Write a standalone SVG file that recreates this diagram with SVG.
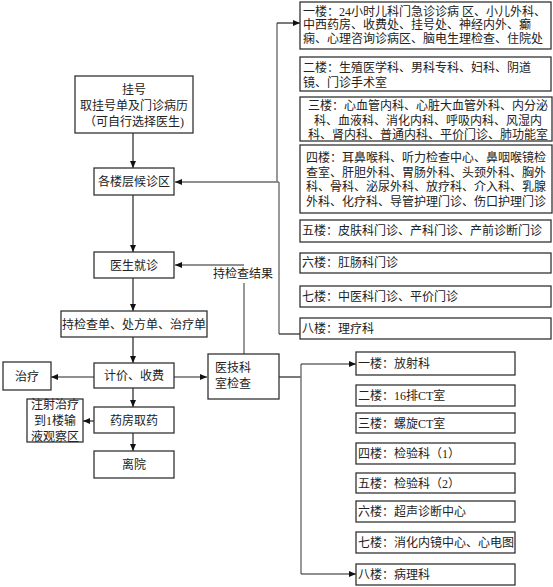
<svg xmlns="http://www.w3.org/2000/svg" width="553" height="587" viewBox="0 0 553 587">
<style>
rect{fill:#fff;stroke:#333;stroke-width:1.3}
text{font-family:"Liberation Serif","Noto Sans CJK SC",serif;font-size:12px;fill:#222}
.c{text-anchor:middle}
.ln{fill:none;stroke:#222;stroke-width:1.2}
.g{fill:none;stroke:#777;stroke-width:1.5}
</style>
<defs>
<marker id="a" markerWidth="7" markerHeight="6" refX="7" refY="3" orient="auto" markerUnits="userSpaceOnUse"><path d="M0,0 L7,3 L0,6 z" fill="#111"/></marker>
</defs>
<g id="connectors">
<path class="ln" d="M133,133 V168" marker-end="url(#a)"/>
<path class="ln" d="M133,195 V252" marker-end="url(#a)"/>
<path class="ln" d="M133,278 V311" marker-end="url(#a)"/>
<path class="ln" d="M133,337 V363" marker-end="url(#a)"/>
<path class="ln" d="M94,377 H51" marker-end="url(#a)"/>
<path class="ln" d="M174,377 H207" marker-end="url(#a)"/>
<path class="ln" d="M133,388 V407" marker-end="url(#a)"/>
<path class="ln" d="M94,421 H83" marker-end="url(#a)"/>
<path class="ln" d="M133,433 V451" marker-end="url(#a)"/>
<path class="g" d="M244,354 V283"/>
<path class="ln" d="M244,265 H175" marker-end="url(#a)"/>
<path class="ln" d="M279,377 H301"/>
<path class="g" d="M301,364 V574"/>
<path class="ln" d="M301,364 H356" marker-end="url(#a)"/>
<path class="ln" d="M301,574 H356" marker-end="url(#a)"/>
<path class="ln" d="M279,182 H175" marker-end="url(#a)"/>
<path class="g" d="M277,182 V23"/>
<path class="ln" d="M277,23 H300" marker-end="url(#a)"/>
<path class="g" d="M279,182 V334"/>
<path class="ln" d="M279,334 H300"/>
</g>
<g id="guahao"><rect x="75" y="76" width="118" height="57"/>
<text class="c" x="134" y="94">挂号</text>
<text class="c" x="134" y="110">取挂号单及门诊病历</text>
<text class="c" x="134" y="126">（可自行选择医生)</text></g>
<g id="houzhen"><rect x="94" y="168" width="80" height="27"/><text class="c" x="134" y="186">各楼层候诊区</text></g>
<g id="jiuzhen"><rect x="94" y="252" width="80" height="26"/><text class="c" x="134" y="270">医生就诊</text></g>
<g id="chidan"><rect x="61" y="311" width="146" height="26"/><text class="c" x="134" y="329">持检查单、处方单、治疗单</text></g>
<g id="jijia"><rect x="94" y="363" width="80" height="25"/><text class="c" x="134" y="380">计价、收费</text></g>
<g id="zhiliao"><rect x="3" y="362" width="48" height="28"/><text class="c" x="27" y="381">治疗</text></g>
<g id="yiji"><rect x="208" y="354" width="71" height="45"/><text x="215" y="372">医技科</text><text x="215" y="388">室检查</text></g>
<g id="jieguo"><text class="c" x="243" y="278">持检查结果</text></g>
<g id="yaofang"><rect x="94" y="407" width="80" height="26"/><text class="c" x="134" y="425">药房取药</text></g>
<g id="zhushe"><rect x="27" y="399" width="56" height="43"/>
<text class="c" x="55" y="409">注射治疗</text><text class="c" x="55" y="425">到1楼输</text><text class="c" x="55" y="441">液观察区</text></g>
<g id="liyuan"><rect x="94" y="451" width="80" height="27"/><text class="c" x="134" y="469">离院</text></g>
<g id="f1"><rect x="300" y="2" width="251" height="47"/>
<text x="303" y="16">一楼：24小时儿科门急诊诊病 区、小儿外科、</text>
<text x="303" y="29">中西药房、收费处、挂号处、神经内外、癫</text>
<text x="303" y="43">痫、心理咨询诊病区、脑电生理检查、住院处</text></g>
<g id="f2"><rect x="300" y="57" width="251" height="34"/>
<text x="303" y="72">二楼：生殖医学科、男科专科、妇科、阴道</text>
<text x="303" y="87">镜、门诊手术室</text></g>
<g id="f3"><rect x="300" y="97" width="252" height="44"/>
<text x="308" y="110">三楼：心血管内科、心脏大血管外科、内分泌</text>
<text x="314" y="125">科、血液科、消化内科、呼吸内科、风湿内</text>
<text x="308" y="139">科、肾内科、普通内科、平价门诊、肺功能室</text></g>
<g id="f4"><rect x="300" y="145" width="252" height="68"/>
<text x="306" y="162">四楼：耳鼻喉科、听力检查中心、鼻咽喉镜检</text>
<text x="306" y="177">查室、肝胆外科、胃肠外科、头颈外科、胸外</text>
<text x="306" y="191">科、骨科、泌尿外科、放疗科、介入科、乳腺</text>
<text x="306" y="206">外科、化疗科、导管护理门诊、伤口护理门诊</text></g>
<g id="f5"><rect x="300" y="220" width="251" height="22"/><text x="302" y="235">五楼：皮肤科门诊、产科门诊、产前诊断门诊</text></g>
<g id="f6"><rect x="300" y="253" width="251" height="20"/><text x="302" y="267">六楼：肛肠科门诊</text></g>
<g id="f7"><rect x="300" y="286" width="251" height="21"/><text x="302" y="301">七楼：中医科门诊、平价门诊</text></g>
<g id="f8"><rect x="300" y="318" width="251" height="21"/><text x="302" y="333">八楼：理疗科</text></g>
<g id="e1"><rect x="356" y="352" width="159" height="23"/><text x="358" y="368">一楼：放射科</text></g>
<g id="e2"><rect x="356" y="385" width="159" height="21"/><text x="358" y="400">二楼：16排CT室</text></g>
<g id="e3"><rect x="356" y="413" width="159" height="20"/><text x="358" y="428">三楼：螺旋CT室</text></g>
<g id="e4"><rect x="356" y="443" width="159" height="21"/><text x="358" y="458">四楼：检验科（1）</text></g>
<g id="e5"><rect x="356" y="473" width="159" height="20"/><text x="358" y="488">五楼：检验科（2）</text></g>
<g id="e6"><rect x="356" y="501" width="159" height="21"/><text x="358" y="516">六楼：超声诊断中心</text></g>
<g id="e7"><rect x="356" y="532" width="159" height="21"/><text x="358" y="547">七楼：消化内镜中心、心电图</text></g>
<g id="e8"><rect x="356" y="564" width="159" height="21"/><text x="358" y="579">八楼：病理科</text></g>
</svg>
